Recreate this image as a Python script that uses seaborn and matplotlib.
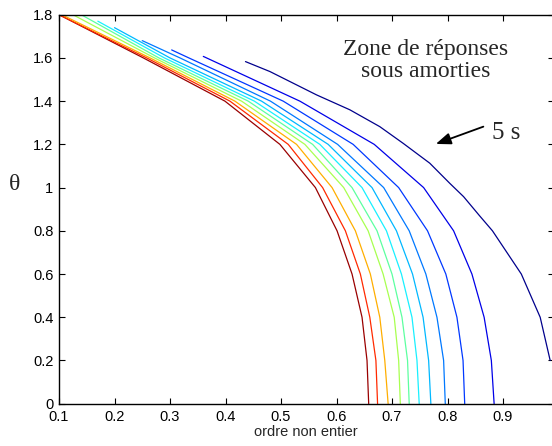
import matplotlib
matplotlib.use("Agg")
import matplotlib.pyplot as plt
import seaborn as sns
import pandas as pd

# ---- data ----
curve_names = ["c1", "c2", "c3", "c4", "c5", "c6", "c7", "c8", "c9", "c10", "c11"]
theta_levels = [1.6, 1.4, 1.2, 1.0, 0.8, 0.6, 0.4, 0.2, 0.0]

c1_x = [0.252, 0.399, 0.498, 0.562, 0.601, 0.628, 0.646, 0.655, 0.658]
c2_x = [0.258, 0.408, 0.513, 0.575, 0.616, 0.643, 0.660, 0.671, 0.674]
c3_x = [0.264, 0.417, 0.528, 0.592, 0.634, 0.661, 0.678, 0.687, 0.693]
c4_x = [0.272, 0.429, 0.543, 0.613, 0.657, 0.684, 0.704, 0.712, 0.715]
c5_x = [0.280, 0.441, 0.557, 0.628, 0.673, 0.700, 0.718, 0.728, 0.731]
c6_x = [0.290, 0.452, 0.570, 0.646, 0.690, 0.717, 0.736, 0.745, 0.749]
c7_x = [0.300, 0.465, 0.585, 0.664, 0.708, 0.737, 0.756, 0.766, 0.770]
c8_x = [0.318, 0.481, 0.602, 0.685, 0.731, 0.761, 0.781, 0.793, 0.796]
c9_x = [0.334, 0.504, 0.630, 0.712, 0.764, 0.797, 0.817, 0.828, 0.831]
c10_x = [None, 0.534, 0.668, 0.757, 0.811, 0.844, 0.866, 0.879, 0.884]

# starting point (upper end) of each curve
start_x = [0.100, 0.100, 0.105, 0.125, 0.140, 0.170, 0.200, 0.250, 0.303, 0.360]
start_y = [1.800, 1.800, 1.800, 1.800, 1.800, 1.770, 1.740, 1.680, 1.637, 1.607]

# outermost curve (5 s)
c11_x = [0.436, 0.480, 0.564, 0.624, 0.678, 0.720, 0.768, 0.804, 0.829, 0.857, 0.881, 0.933, 0.967, 0.985]
c11_y = [1.583, 1.537, 1.429, 1.360, 1.282, 1.205, 1.113, 1.020, 0.958, 0.872, 0.800, 0.600, 0.400, 0.200]

x_ticks = [0.1, 0.2, 0.3, 0.4, 0.5, 0.6, 0.7, 0.8, 0.9]
x_tick_labels = ["0.1", "0.2", "0.3", "0.4", "0.5", "0.6", "0.7", "0.8", "0.9"]
y_ticks = [0, 0.2, 0.4, 0.6, 0.8, 1.0, 1.2, 1.4, 1.6, 1.8]
y_tick_labels = ["0", "0.2", "0.4", "0.6", "0.8", "1", "1.2", "1.4", "1.6", "1.8"]

colors = ["#9a0000", "#ff2a00", "#ffae00", "#a8ff50", "#5cffa0", "#18f0ff",
          "#00b8ff", "#0078ff", "#0038ff", "#0000e8", "#00008c"]

# ---- build long table ----
rows = []
series_x = [c1_x, c2_x, c3_x, c4_x, c5_x, c6_x, c7_x, c8_x, c9_x, c10_x]
for i, xs in enumerate(series_x):
    order = 0
    rows.append((curve_names[i], order, start_x[i], start_y[i]))
    for xv, yv in zip(xs, theta_levels):
        if xv is None or yv >= start_y[i]:
            continue
        order += 1
        rows.append((curve_names[i], order, xv, yv))
for k, (xv, yv) in enumerate(zip(c11_x, c11_y)):
    rows.append((curve_names[10], k, xv, yv))
df = pd.DataFrame(rows, columns=["curve", "order", "nu", "theta"])

# ---- style ----
sns.set_style("ticks")
plt.rcParams["font.family"] = ["Liberation Sans", "DejaVu Sans"]
plt.rcParams["xtick.direction"] = "in"
plt.rcParams["ytick.direction"] = "in"

W, H = 552, 446
fig = plt.figure(figsize=(W / 100, H / 100), dpi=100)
ax_left, ax_right, ax_bottom, ax_top = 59, 553.5, 403.7, 14.7
ax = fig.add_axes([ax_left / W, (H - ax_bottom) / H, (ax_right - ax_left) / W, (ax_bottom - ax_top) / H])

sns.lineplot(data=df, x="nu", y="theta", hue="curve", palette=colors, sort=False,
             estimator=None, units="curve", linewidth=0.9, legend=False, ax=ax)

ax.set_xlim(0.1, 0.1 + (ax_right - ax_left) / 555)
ax.set_ylim(0, 1.8)
ax.set_xticks(x_ticks)
ax.set_xticklabels(x_tick_labels)
ax.set_yticks(y_ticks)
ax.set_yticklabels(y_tick_labels)
ax.tick_params(axis="both", which="both", direction="in", length=4.5, width=0.8,
               labelsize=10.5, top=True, right=True, colors="black")
ax.tick_params(axis="x", pad=4.5)
ax.tick_params(axis="y", pad=4)
for s in ax.spines.values():
    s.set_color("black")
    s.set_linewidth(1.0)

ax.set_xlabel("ordre non entier", fontsize=10.5, labelpad=1)
ax.set_ylabel("")

serif = ["Liberation Serif", "DejaVu Serif"]
fig.text(15 / W, 1 - 185 / H, "θ", fontsize=17, family=serif, ha="center", va="center")
ax.text(0.761, 1.587, "Zone de réponses\nsous amorties", fontsize=17, family=serif,
        ha="center", va="center", linespacing=1.05)
ax.text(0.881, 1.252, "5 s", fontsize=18, family=serif, ha="left", va="center")
ax.annotate("", xy=(0.779, 1.202), xytext=(0.8646, 1.282),
            arrowprops=dict(arrowstyle="-|>,head_length=0.9,head_width=0.35",
                            color="black", lw=1.3, shrinkA=0, shrinkB=0))

fig.savefig("out.png", dpi=100)
